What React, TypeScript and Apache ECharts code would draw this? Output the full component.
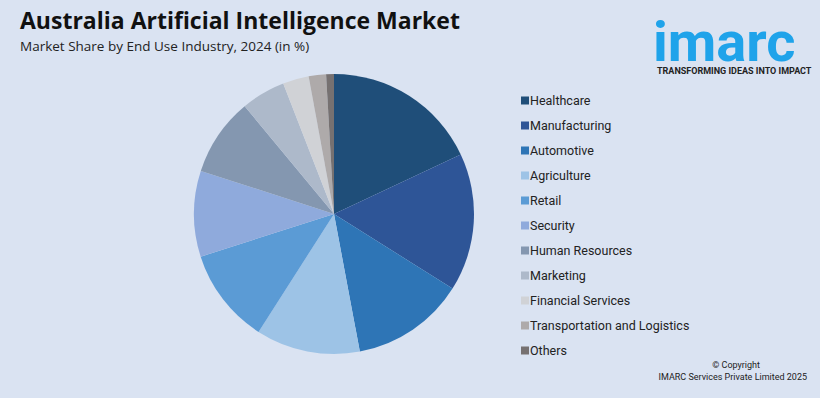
import React, { useEffect, useRef } from "react";
import * as echarts from "echarts";

const categories = [
  "Healthcare",
  "Manufacturing",
  "Automotive",
  "Agriculture",
  "Retail",
  "Security",
  "Human Resources",
  "Marketing",
  "Financial Services",
  "Transportation and Logistics",
  "Others",
];
const shares = [18.0, 15.9, 13.1, 12.0, 11.0, 9.9, 9.0, 5.1, 3.0, 2.0, 0.9];
const colors = [
  "#1f4e79",
  "#2e5597",
  "#2e75b6",
  "#9dc3e6",
  "#5b9bd5",
  "#8faadc",
  "#8497b0",
  "#adb9ca",
  "#d0d2d6",
  "#aeaaaa",
  "#767171",
];

const TITLE = "Australia Artificial Intelligence Market";
const SUBTITLE = "Market Share by End Use Industry, 2024 (in %)";

export default function App() {
  const ref = useRef<HTMLDivElement>(null);
  useEffect(() => {
    if (!ref.current) return;
    const chart = echarts.init(ref.current, undefined, { renderer: "svg" });
    chart.setOption({
      animation: false,
      backgroundColor: "#dae3f2",
      color: colors,
      legend: {
        orient: "vertical",
        left: 516,
        top: 89,
        itemWidth: 8,
        itemHeight: 8,
        itemGap: 12,
        icon: "rect",
        textStyle: {
          fontFamily: "Roboto",
          fontSize: 12.5,
          lineHeight: 13,
          color: "#222",
          padding: [0, 0, 0, -4],
        },
        data: categories,
      },
      graphic: [
        {
          type: "text",
          left: 20,
          top: 8,
          style: {
            text: TITLE,
            fontFamily: "Open Sans",
            fontWeight: "bold",
            fontSize: 23,
            fill: "#111",
          },
        },
        {
          type: "text",
          left: 20,
          top: 39,
          style: {
            text: SUBTITLE,
            fontFamily: "Open Sans",
            fontSize: 13.5,
            fill: "#222",
          },
        },
        {
          type: "text",
          left: 653,
          top: 14,
          style: {
            text: "imarc",
            fontFamily: "Roboto",
            fontWeight: "bold",
            fontSize: 56,
            lineHeight: 44,
            fill: "#1fa3ea",
          },
        },
        {
          type: "text",
          left: 657,
          top: 66,
          style: {
            text: "TRANSFORMING IDEAS INTO IMPACT",
            fontFamily: "Roboto",
            fontWeight: "bold",
            fontSize: 9,
            fill: "#222",
          },
        },
        {
          type: "text",
          right: 60,
          top: 360,
          style: {
            text: "© Copyright",
            fontFamily: "Roboto",
            fontSize: 9,
            fill: "#222",
          },
        },
        {
          type: "text",
          right: 13,
          top: 372,
          style: {
            text: "IMARC Services Private Limited 2025",
            fontFamily: "Roboto",
            fontSize: 9,
            fill: "#222",
          },
        },
      ],
      series: [
        {
          type: "pie",
          center: [334, 214],
          radius: 140,
          startAngle: 90,
          clockwise: true,
          label: { show: false },
          labelLine: { show: false },
          itemStyle: { borderWidth: 0 },
          emphasis: { disabled: true },
          data: categories.map((name, i) => ({ name, value: shares[i] })),
        },
      ],
    });
    return () => chart.dispose();
  }, []);
  return (
    <div
      ref={ref}
      style={{ position: "fixed", left: 0, top: 0, width: 820, height: 398 }}
    />
  );
}
